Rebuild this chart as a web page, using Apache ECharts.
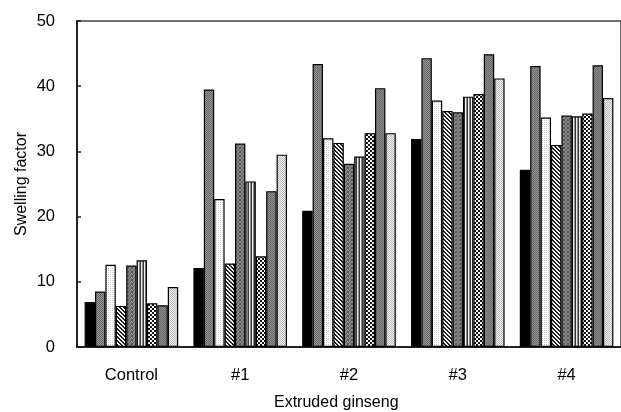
<!DOCTYPE html>
<html>
<head>
<meta charset="utf-8">
<script src="https://cdn.jsdelivr.net/npm/echarts@6/dist/echarts.min.js"></script>
<style>
  html, body { margin: 0; padding: 0; background: #fff; }
  #chart { width: 621px; height: 412px; }
</style>
</head>
<body>
<div id="chart"></div>
<script>
// Swelling factor of control and extruded ginseng samples
const categories = ['Control', '#1', '#2', '#3', '#4'];
const s1 = [6.9, 12.1, 20.9, 31.9, 27.2];
const s2 = [8.5, 39.5, 43.4, 44.3, 43.1];
const s3 = [12.6, 22.7, 32.0, 37.8, 35.2];
const s4 = [6.3, 12.8, 31.3, 36.2, 31.0];
const s5 = [12.5, 31.2, 28.1, 36.0, 35.5];
const s6 = [13.3, 25.4, 29.2, 38.4, 35.4];
const s7 = [6.7, 13.9, 32.8, 38.8, 35.8];
const s8 = [6.4, 23.9, 39.7, 44.9, 43.2];
const s9 = [9.2, 29.5, 32.8, 41.2, 38.2];
const yTicks = { min: 0, max: 50, interval: 10 };

// Small repeating fill tiles
function tile(size, painter) {
  const c = document.createElement('canvas');
  c.width = size; c.height = size;
  const g = c.getContext('2d');
  for (let y = 0; y < size; y++) {
    for (let x = 0; x < size; x++) {
      g.fillStyle = painter(x, y);
      g.fillRect(x, y, 1, 1);
    }
  }
  return { image: c, repeat: 'repeat' };
}

const fills = [
  '#000000',
  tile(4, (x, y) => ((x + y) % 2 === 0 ? '#666666' : '#969696')),
  tile(4, (x, y) => ((x % 2 === 0 && y % 2 === 0) ? '#cfcfcf' : '#ffffff')),
  tile(4, (x, y) => (((x - y + 8) % 4) < 2 ? '#222222' : '#f4f4f4')),
  tile(4, (x, y) => (((x + y) % 3) === 0 ? '#555555' : '#888888')),
  tile(3, (x) => ['#f0f0f0', '#8a8a8a', '#3a3a3a'][x]),
  tile(4, (x, y) => ((Math.floor(x / 2) + Math.floor(y / 2)) % 2 === 0 ? '#111111' : '#ffffff')),
  tile(4, (x, y) => ((x + y) % 2 === 0 ? '#6a6a6a' : '#8a8a8a')),
  tile(2, (x, y) => ((x + y) % 2 === 0 ? '#bdbdbd' : '#efefef'))
];

const seriesData = [s1, s2, s3, s4, s5, s6, s7, s8, s9];
const font = 'Liberation Sans, Arial, sans-serif';

const chart = echarts.init(document.getElementById('chart'));
chart.setOption({
  animation: false,
  backgroundColor: '#ffffff',
  grid: {
    left: 77, top: 21, bottom: 65, right: -3,
    show: true, borderColor: '#444', borderWidth: 1.5, backgroundColor: 'transparent'
  },
  xAxis: {
    type: 'category',
    data: categories,
    axisLine: { lineStyle: { color: '#222', width: 2 } },
    axisTick: { inside: true, length: 5, lineStyle: { color: '#222', width: 1.5 } },
    axisLabel: { color: '#000', fontFamily: font, fontSize: 16.5, margin: 20 },
    splitLine: { show: false }
  },
  yAxis: {
    type: 'value',
    min: yTicks.min, max: yTicks.max, interval: yTicks.interval,
    name: 'Swelling factor',
    nameLocation: 'middle',
    nameRotate: 90,
    nameGap: 47,
    nameMoveOverlap: false,
    nameTextStyle: { color: '#000', fontFamily: font, fontSize: 16 },
    axisLine: { show: true, lineStyle: { color: '#222', width: 2 } },
    axisTick: { show: true, inside: true, length: 4, lineStyle: { color: '#222', width: 1.5 } },
    axisLabel: { color: '#000', fontFamily: font, fontSize: 16.5, margin: 22 },
    splitLine: { show: false }
  },
  graphic: [{
    type: 'text',
    left: 337 - 63, top: 395,
    style: { text: 'Extruded ginseng', fill: '#000', font: '16px ' + font }
  }],
  series: seriesData.map((d, i) => ({
    type: 'bar',
    name: 'Sample ' + (i + 1),
    data: d,
    barGap: '0%',
    barCategoryGap: '14%',
    itemStyle: { color: fills[i], borderColor: '#000', borderWidth: 1.2 }
  }))
});
</script>
</body>
</html>
